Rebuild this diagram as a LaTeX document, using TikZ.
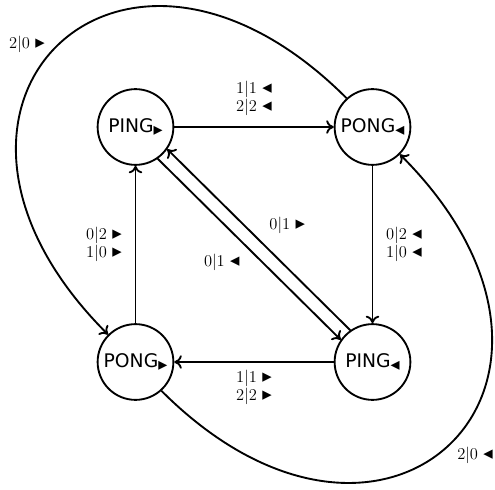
\documentclass[tikz,border=0pt]{standalone}
\usepackage{fontspec}
\newfontfamily\dejavu{DejaVu Sans}
\usetikzlibrary{arrows.meta}
\newcommand{\myR}{{\fontsize{12.5}{12}\dejavu ▸}}
\newcommand{\myL}{{\fontsize{12.5}{12}\dejavu ◂}}
\newcommand{\subR}{\raisebox{-0.3ex}{\fontsize{12}{12}\dejavu ▸}}
\newcommand{\subL}{\raisebox{-0.3ex}{\fontsize{12}{12}\dejavu ◂}}
\begin{document}
\begin{tikzpicture}[x=0.6667pt,y=0.6667pt,
  state/.style={circle,draw,line width=1.25pt,minimum size=50.5pt,inner sep=0pt,font=\dejavu\fontsize{12.5}{14}\selectfont},
  conn/.style={line width=1.25pt,-{To[length=5pt,width=9pt]}},
  lbl/.style={align=center,font=\fontsize{11}{12.2}\selectfont,inner sep=0pt}]
\useasboundingbox (0,0) rectangle (495,489);
\node[state] (A) at (135.5,362) {PING\subR};
\node[state] (B) at (372.5,362) {PONG\subL};
\node[state] (C) at (135.5,127) {PONG\subR};
\node[state] (D) at (372.5,127) {PING\subL};
\draw[conn] (A) -- (B) node[lbl,midway,yshift=19pt] {1|1 \myL\\2|2 \myL};
\draw[conn] (B) -- (D) node[lbl,midway,xshift=21pt] {0|2 \myL\\1|0 \myL};
\draw[conn] (D) -- (C) node[lbl,midway,yshift=-17pt] {1|1 \myR\\2|2 \myR};
\draw[conn] (C) -- (A) node[lbl,midway,xshift=-21pt] {0|2 \myR\\1|0 \myR};
\draw[conn] (D.125) -- (A.-35) node[lbl,midway,xshift=19pt,yshift=9.3pt] {0|1 \myR};
\draw[conn] (A.-55) -- (D.145) node[lbl,midway,xshift=-18.3pt,yshift=-8.7pt] {0|1 \myL};
\draw[conn] (B.132) .. controls +(135:321) and +(135:321) .. (C.135);
\node[lbl] (L1) at (27,445) {2|0 \myR};
\draw[conn] (C.-48) .. controls +(-45:321) and +(-45:321) .. (B.-45);
\node[lbl,anchor=west] (L2) at (457,34) {2|0 \myL};
\end{tikzpicture}
\end{document}
